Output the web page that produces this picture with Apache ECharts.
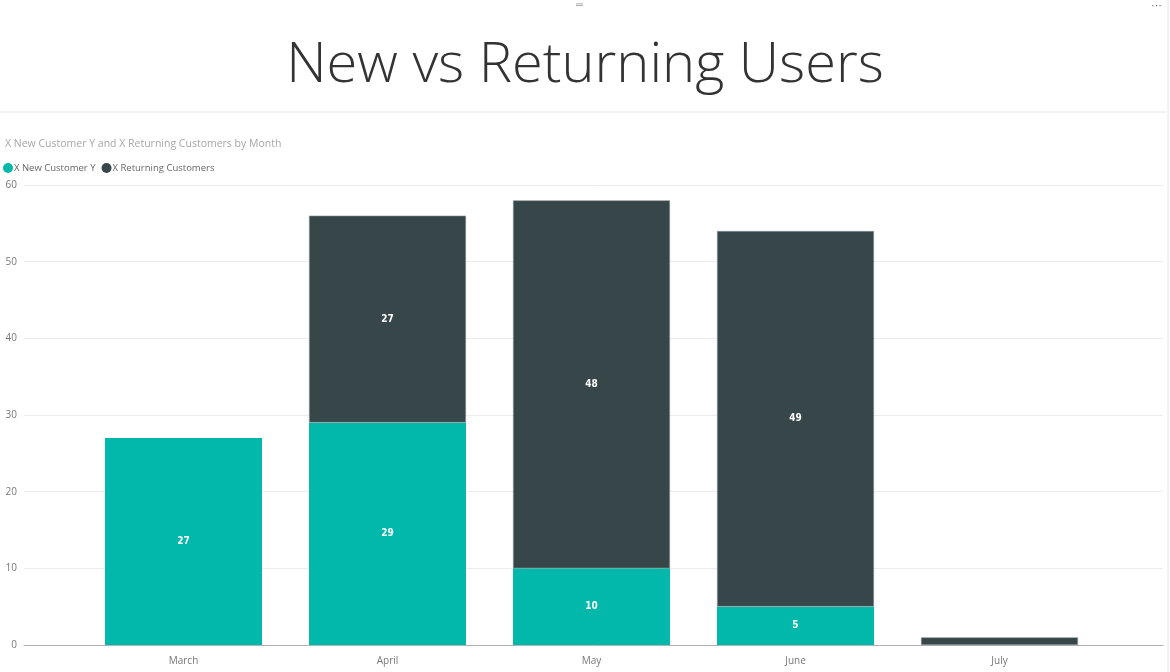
<!DOCTYPE html>
<html lang="en">
<head>
  <meta charset="UTF-8">
  <title>New vs Returning Users</title>
  <script src="https://cdn.jsdelivr.net/npm/echarts@6/dist/echarts.min.js"></script>
  <style>
    html, body { margin: 0; padding: 0; background: #fff; }
    #main { width: 1170px; height: 672px; }
  </style>
</head>
<body>
<div id="main"></div>
<script type="text/javascript">
  // chart data
  const months = ['March', 'April', 'May', 'June', 'July'];
  const newCustomers = [27, 29, 10, 5, '-'];
  const returningCustomers = ['-', 27, 48, 49, 1];
  const yTicks = [0, 10, 20, 30, 40, 50, 60];

  const teal = '#01B8AA';
  const dark = '#374649';

  var myChart = echarts.init(document.getElementById('main'));

  const segLabel = {
    show: true,
    position: 'inside',
    color: '#fff',
    fontSize: 10,
    fontWeight: 'bold',
    fontFamily: 'DejaVu Sans Condensed, DejaVu Sans, sans-serif',
    formatter: function (p) { return p.value > 1 ? p.value : ''; }
  };

  myChart.setOption({
    animation: false,
    textStyle: { fontFamily: '"Open Sans", "Noto Sans", sans-serif' },
    title: [
      {
        text: 'New vs Returning Users',
        left: 'center',
        top: 33,
        textStyle: { fontSize: 56, fontWeight: 300, color: '#333', fontFamily: '"Open Sans", sans-serif' }
      },
      {
        text: 'X New Customer Y and X Returning Customers by Month',
        left: 0,
        top: 134,
        textStyle: { fontSize: 10.5, fontWeight: 'normal', color: '#a6a6a6' }
      }
    ],
    legend: {
      left: -2,
      top: 158,
      itemGap: 6,
      itemWidth: 10,
      itemHeight: 10,
      icon: 'circle',
      itemStyle: { borderWidth: 0 },
      textStyle: { fontSize: 9.5, color: '#666', padding: [0, 0, 0, -4] },
      data: ['X New Customer Y', 'X Returning Customers']
    },
    graphic: [
      { type: 'line', shape: { x1: 0, y1: 112, x2: 1166, y2: 112 }, style: { stroke: '#e6e6e6', lineWidth: 1 } },
      { type: 'line', shape: { x1: 1168, y1: 0, x2: 1168, y2: 672 }, style: { stroke: '#e6e6e6', lineWidth: 1 } },
      { type: 'text', left: 576, top: 0, style: { text: '═', fill: '#999', fontSize: 10 } },
      { type: 'text', left: 1151, top: 0, style: { text: '···', fill: '#666', fontSize: 11 } }
    ],
    grid: [
      { left: 24, right: 7, top: 185, bottom: 27 },
      { left: 81.5, width: 1020, top: 185, bottom: 27 }
    ],
    xAxis: [
      {
        gridIndex: 0, type: 'category', data: [''],
        axisLine: { lineStyle: { color: '#b0b0b0' } },
        axisTick: { show: false }, axisLabel: { show: false }
      },
      {
        gridIndex: 1, type: 'category', data: months,
        axisLine: { show: false }, axisTick: { show: false },
        axisLabel: { color: '#777', fontSize: 10, margin: 11 }
      }
    ],
    yAxis: [
      {
        gridIndex: 0, type: 'value', min: 0, max: 60, interval: 10,
        axisLabel: {
          color: '#777', fontSize: 10, margin: 7,
          formatter: function (v) { return yTicks.indexOf(v) >= 0 ? v : ''; }
        },
        splitLine: { lineStyle: { color: '#ececec' } },
        axisLine: { show: false }, axisTick: { show: false }
      },
      {
        gridIndex: 1, type: 'value', min: 0, max: 60, interval: 10,
        axisLabel: { show: false }, splitLine: { show: false },
        axisLine: { show: false }, axisTick: { show: false }
      }
    ],
    series: [
      {
        name: 'X New Customer Y', type: 'bar', stack: 'total',
        xAxisIndex: 1, yAxisIndex: 1, barWidth: 157,
        itemStyle: { color: teal },
        label: segLabel,
        data: newCustomers
      },
      {
        name: 'X Returning Customers', type: 'bar', stack: 'total',
        xAxisIndex: 1, yAxisIndex: 1, barWidth: 157,
        itemStyle: { color: dark, borderColor: '#8a9395', borderWidth: 0.6 },
        label: segLabel,
        data: returningCustomers
      }
    ]
  });
</script>
</body>
</html>
